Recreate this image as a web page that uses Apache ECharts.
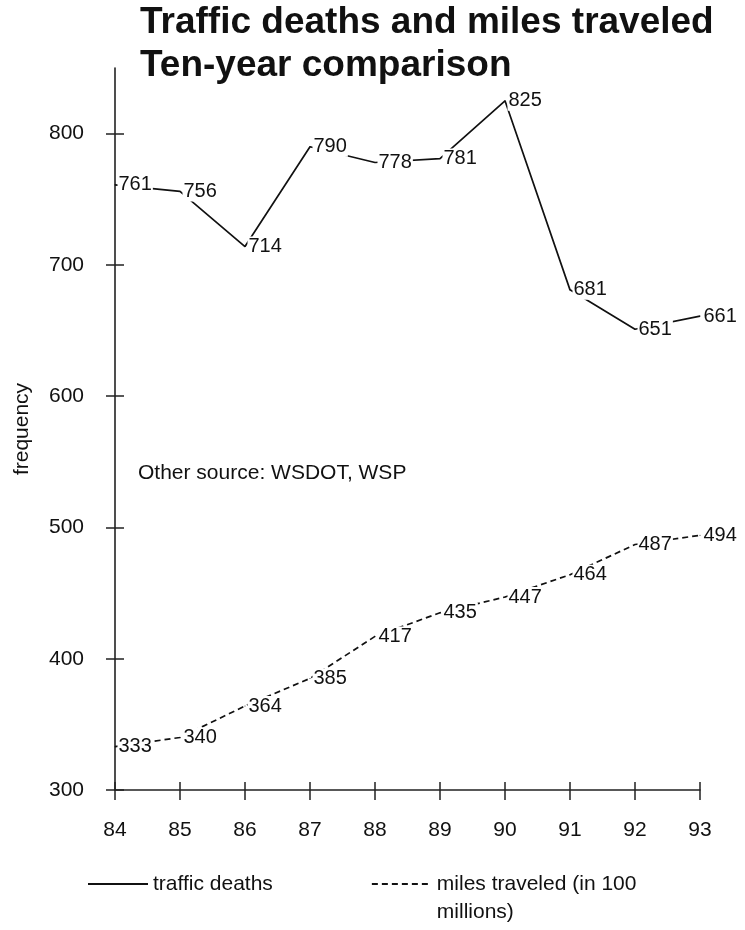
<!DOCTYPE html>
<html>
<head>
<meta charset="utf-8">
<script src="https://cdn.jsdelivr.net/npm/echarts@6/dist/echarts.min.js"></script>
<style>
html,body{margin:0;padding:0;background:#fff;}
#chart{width:745px;height:930px;}
</style>
</head>
<body>
<div id="chart"></div>
<script>
const years = ['84','85','86','87','88','89','90','91','92','93'];
const trafficDeaths = [761, 756, 714, 790, 778, 781, 825, 681, 651, 661];
const milesTraveled = [333, 340, 364, 385, 417, 435, 447, 464, 487, 494];
const yTicks = [300, 400, 500, 600, 700, 800];
const deathsName = 'traffic deaths';
const milesName = 'miles traveled (in 100\nmillions)';

const FONT = 'Liberation Sans, Arial, sans-serif';
const chart = echarts.init(document.getElementById('chart'), null, {renderer: 'canvas'});

const axisColor = '#222';
const labelCfg = {
  show: true,
  position: 'right',
  distance: 2,
  color: '#111',
  fontFamily: FONT,
  fontSize: 20,
  backgroundColor: '#fff',
  padding: [0, 1]
};

chart.setOption({
  backgroundColor: '#fff',
  animation: false,
  title: {
    text: 'Traffic deaths and miles traveled\nTen-year comparison',
    left: 140,
    top: 1,
    padding: 0,
    textStyle: {fontFamily: FONT, fontSize: 37, fontWeight: 'bold', color: '#111', lineHeight: 43}
  },
  grid: {left: 115, right: 45, top: 68, bottom: 140, containLabel: false},
  xAxis: [{
    type: 'category',
    data: years,
    boundaryGap: false,
    axisLine: {lineStyle: {color: axisColor, width: 1.6}},
    axisTick: {show: true, inside: false, length: 10, lineStyle: {color: axisColor, width: 1.5}},
    axisLabel: {color: '#111', fontFamily: FONT, fontSize: 21, margin: 30},
    splitLine: {show: false}
  }, {
    type: 'category',
    data: years,
    position: 'bottom',
    boundaryGap: false,
    axisLine: {show: false},
    axisTick: {show: true, inside: true, length: 8, lineStyle: {color: axisColor, width: 1.5}},
    axisLabel: {show: false},
    splitLine: {show: false}
  }],
  yAxis: [{
    type: 'value',
    min: 300,
    max: 850,
    interval: 100,
    name: 'frequency',
    nameLocation: 'middle',
    nameRotate: 90,
    nameGap: 82,
    nameTextStyle: {color: '#111', fontFamily: FONT, fontSize: 21},
    axisLine: {show: true, lineStyle: {color: axisColor, width: 1.6}},
    axisTick: {show: true, inside: false, length: 9, customValues: yTicks, lineStyle: {color: axisColor, width: 1.5}},
    axisLabel: {color: '#111', fontFamily: FONT, fontSize: 21, margin: 31, customValues: yTicks},
    splitLine: {show: false}
  }, {
    type: 'value',
    min: 300,
    max: 850,
    interval: 100,
    position: 'left',
    axisLine: {show: false},
    axisTick: {show: true, inside: true, length: 9, customValues: yTicks, lineStyle: {color: axisColor, width: 1.5}},
    axisLabel: {show: false},
    splitLine: {show: false}
  }],
  legend: {
    left: 87,
    top: 842,
    itemWidth: 60,
    itemHeight: 14,
    itemGap: 98,
    padding: 0,
    itemStyle: {opacity: 0},
    textStyle: {color: '#111', fontFamily: FONT, fontSize: 21, lineHeight: 28},
    formatter: function (name) { return name === milesName ? '\n' + name : name; },
    data: [deathsName, milesName]
  },
  graphic: [{
    type: 'text',
    left: 138,
    top: 463,
    style: {text: 'Other source: WSDOT, WSP', fill: '#111', font: '21px ' + FONT}
  }],
  series: [{
    name: deathsName,
    type: 'line',
    xAxisIndex: 0,
    yAxisIndex: 0,
    data: trafficDeaths,
    symbol: 'circle',
    symbolSize: 1,
    showSymbol: true,
    itemStyle: {color: '#111'},
    lineStyle: {color: '#111', width: 1.7, type: 'solid'},
    label: labelCfg
  }, {
    name: milesName,
    type: 'line',
    xAxisIndex: 0,
    yAxisIndex: 0,
    data: milesTraveled,
    symbol: 'circle',
    symbolSize: 1,
    showSymbol: true,
    itemStyle: {color: '#111'},
    lineStyle: {color: '#111', width: 1.7, type: [6, 4]},
    label: labelCfg
  }]
});
</script>
</body>
</html>
